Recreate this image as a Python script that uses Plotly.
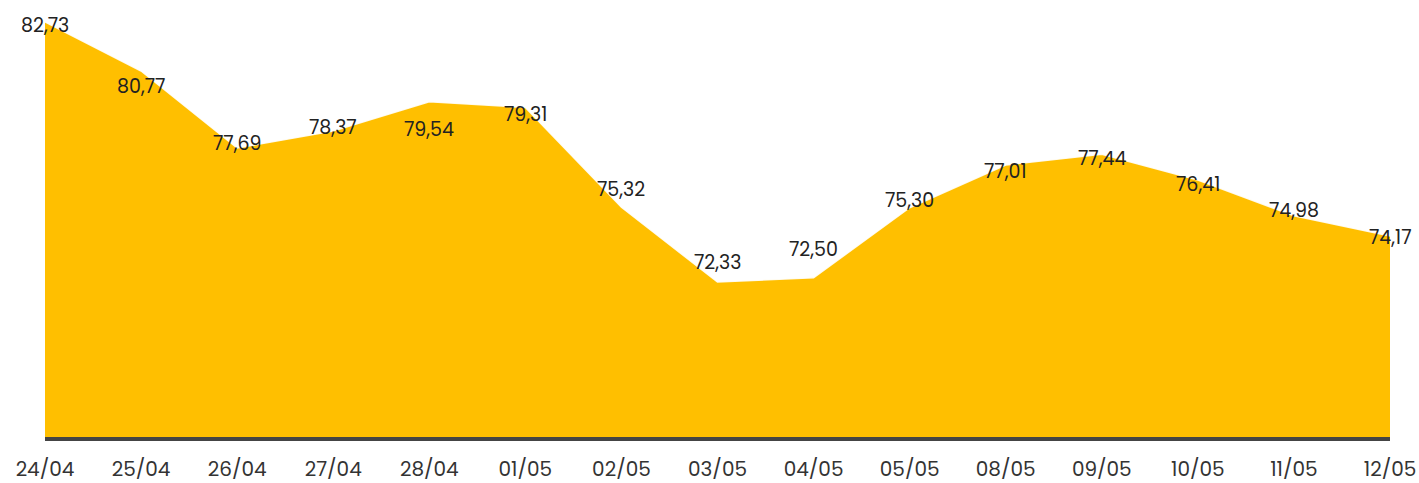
import plotly.graph_objects as go

dates = ["24/04", "25/04", "26/04", "27/04", "28/04", "01/05", "02/05", "03/05",
         "04/05", "05/05", "08/05", "09/05", "10/05", "11/05", "12/05"]
values = [82.73, 80.77, 77.69, 78.37, 79.54, 79.31, 75.32, 72.33,
          72.50, 75.30, 77.01, 77.44, 76.41, 74.98, 74.17]
# vertical offset (px) of each value label relative to its point
label_shift = [-3, -15, 5, 4, -28, -7, 18, 20, 28, 7, -6, -4, -4, 5, -1]

FONT = "Poppins, Inter, Lato, sans-serif"

fig = go.Figure()
fig.add_trace(go.Scatter(
    x=dates, y=values, mode="lines",
    line=dict(color="rgba(255,255,255,0.9)", width=1.5),
    fill="tozeroy", fillcolor="#FFBF00",
    hoverinfo="skip",
))

for d, v, s in zip(dates, values, label_shift):
    fig.add_annotation(
        x=d, y=v, text=f"{v:.2f}".replace(".", ","),
        showarrow=False, yshift=s,
        font=dict(family=FONT, size=19, color="#222222"),
    )

fig.update_layout(
    width=1419, height=483,
    margin=dict(l=45, r=29, t=22, b=46, autoexpand=False),
    paper_bgcolor="white", plot_bgcolor="white",
    showlegend=False,
    xaxis=dict(
        type="category", range=[0, 14], automargin=False,
        showgrid=False, zeroline=False,
        showline=True, linecolor="#444444", linewidth=4,
        ticks="", ticklabelstandoff=11,
        tickfont=dict(family=FONT, size=20, color="#333333"),
    ),
    yaxis=dict(
        range=[66.13, 82.73], visible=False, automargin=False,
        showgrid=False, zeroline=False,
    ),
)

fig.write_html("out.html", config={"displayModeBar": False},
               post_script="document.body.style.margin='0';document.body.style.overflow='hidden';")
